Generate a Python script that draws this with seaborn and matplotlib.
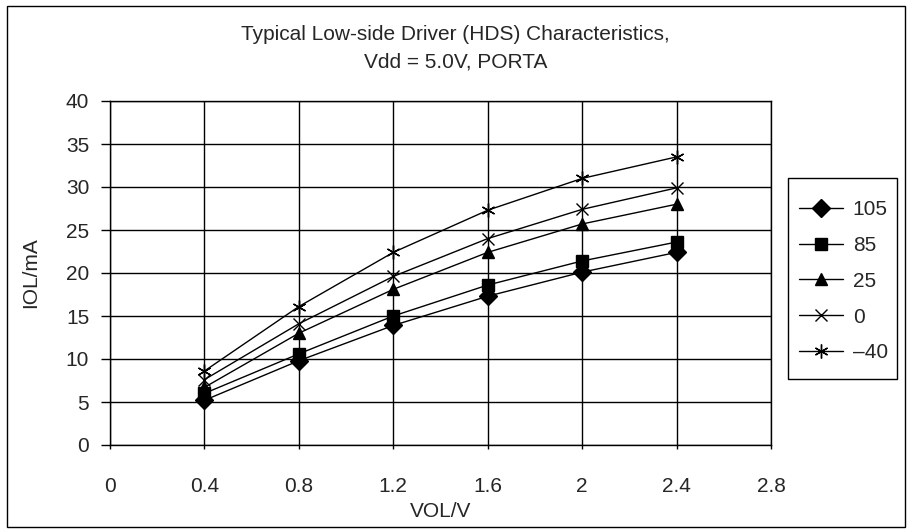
import pandas as pd
import numpy as np
import seaborn as sns
import matplotlib.pyplot as plt
from matplotlib.patches import Rectangle

# data
vol = [0.4, 0.8, 1.2, 1.6, 2.0, 2.4]
temps = ["105", "85", "25", "0", "\u201340"]
iol_105 = [5.2, 9.8, 13.9, 17.3, 20.1, 22.4]
iol_85 = [6.0, 10.6, 15.0, 18.6, 21.4, 23.6]
iol_25 = [6.7, 13.0, 18.1, 22.4, 25.7, 28.0]
iol_0 = [7.6, 14.1, 19.6, 24.0, 27.4, 29.9]
iol_m40 = [8.6, 16.1, 22.4, 27.3, 31.0, 33.5]

series = [iol_105, iol_85, iol_25, iol_0, iol_m40]
rows = []
for t, vals in zip(temps, series):
    for x, y in zip(vol, vals):
        rows.append({"VOL": x, "IOL": y, "temp": t})
df = pd.DataFrame(rows)

sns.set_style("white")
plt.rcParams['font.family'] = ['Liberation Sans', 'DejaVu Sans']
FS = 15

W, H = 911, 531
fig = plt.figure(figsize=(W / 100, H / 100), dpi=100)
ax = fig.add_axes([110 / W, 1 - 445 / H, 661 / W, 344 / H])

markers = ["D", "s", "^", "x", (6, 2, 0)]
sizes = [9, 8, 8, 9, 10]

# one call per series so filled and line markers can be mixed
for t, m, ms in zip(temps, markers, sizes):
    sub = df[df["temp"] == t]
    sns.lineplot(data=sub, x="VOL", y="IOL", color="black", marker=m,
                 markersize=ms, markeredgecolor="black", markeredgewidth=1,
                 linewidth=1, label=t, ax=ax)

ax.set_xlim(0, 2.8)
ax.set_ylim(0, 40)
ax.set_xticks([0, 0.4, 0.8, 1.2, 1.6, 2.0, 2.4, 2.8])
ax.set_xticklabels(["0", "0.4", "0.8", "1.2", "1.6", "2", "2.4", "2.8"])
ax.set_yticks(range(0, 41, 5))
ax.grid(True, color="black", linewidth=1)
ax.tick_params(axis="x", direction="out", length=3, width=1, color="black",
               labelsize=FS, pad=20, bottom=True)
ax.tick_params(axis="y", direction="out", length=6.5, width=1, color="black",
               labelsize=FS, pad=8.5, left=True)
for s in ax.spines.values():
    s.set_color("black")
    s.set_linewidth(1)

ax.set_xlabel("VOL/V", fontsize=FS)
ax.set_ylabel("IOL/mA", fontsize=FS)
ax.xaxis.set_label_coords(0.5, -0.166)
ax.yaxis.set_label_coords(-0.105, 0.5)

fig.text(0.5, 1 - 35 / H, "Typical Low-side Driver (HDS) Characteristics,",
         ha="center", va="center", fontsize=FS)
fig.text(0.5, 1 - 62 / H, "Vdd = 5.0V, PORTA", ha="center", va="center", fontsize=FS)

handles, labels = ax.get_legend_handles_labels()
if ax.get_legend() is not None:
    ax.get_legend().remove()
leg = fig.legend(handles, labels, loc="upper left",
                 bbox_to_anchor=(799 / W, 1 - 200 / H), frameon=False,
                 fontsize=FS, handlelength=2.1, labelspacing=0.81,
                 borderpad=0, handletextpad=0.48, borderaxespad=0)

# legend box and outer chart border
fig.patches.append(Rectangle((788 / W, 1 - 379 / H), 109 / W, 201 / H,
                             transform=fig.transFigure, fill=False,
                             edgecolor="black", linewidth=1))
fig.patches.append(Rectangle((7 / W, 1 - 527 / H), 898 / W, 521 / H,
                             transform=fig.transFigure, fill=False,
                             edgecolor="black", linewidth=1))

fig.savefig("out.png", dpi=100)
